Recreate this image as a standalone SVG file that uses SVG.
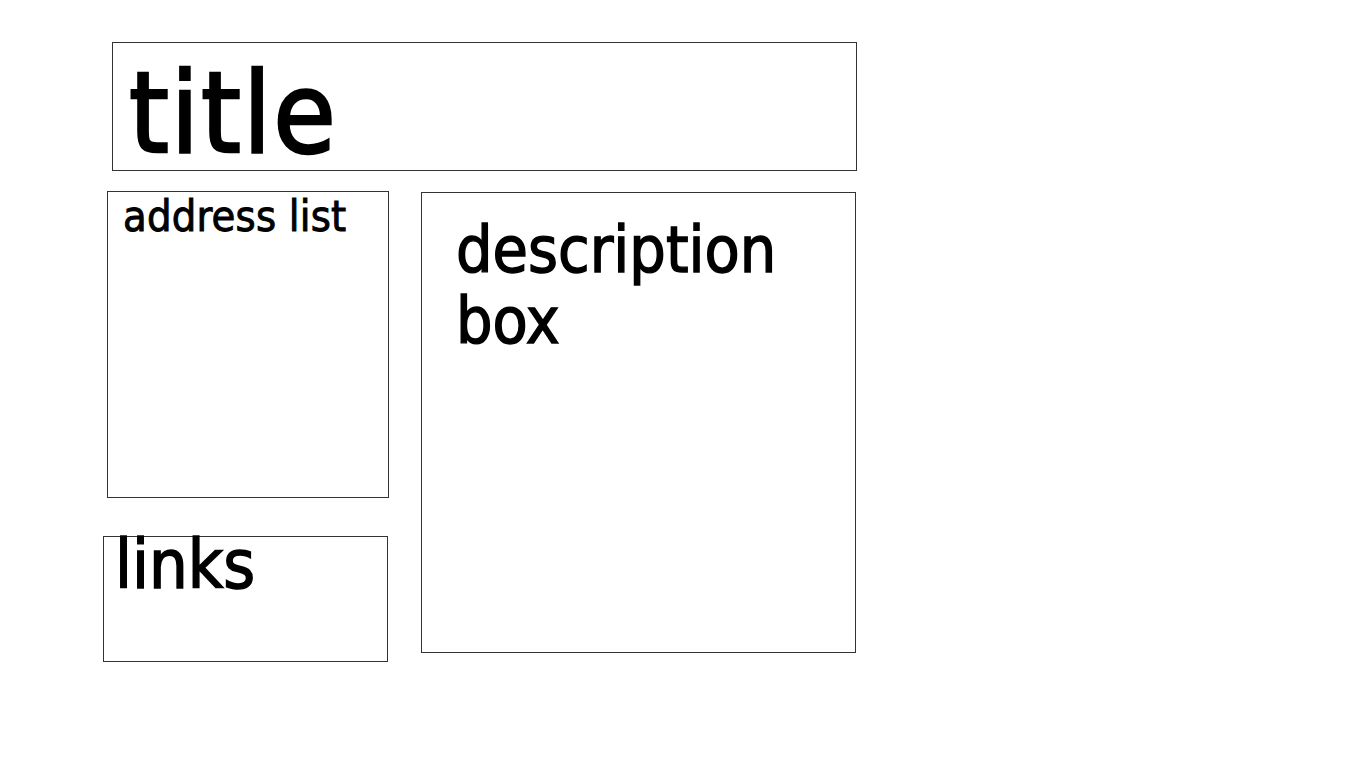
<svg xmlns="http://www.w3.org/2000/svg" width="1366" height="768" viewBox="0 0 1366 768">
<style>
.box{fill:#fff;stroke:#333;stroke-width:1}
.t{font-family:"DejaVu Sans Condensed","DejaVu Sans",sans-serif;font-stretch:condensed;fill:#000;stroke:#000}
</style>
<rect width="1366" height="768" fill="#fff"/>
<g id="title"><rect class="box" x="112.5" y="42.5" width="744" height="128"/><text class="t" x="129" y="152" font-size="113" letter-spacing="2" stroke-width="2.5">title</text></g>
<g id="address-list"><rect class="box" x="107.5" y="191.5" width="281" height="306"/><text class="t" x="123" y="231" font-size="43" letter-spacing="0.2" stroke-width="0.9">address list</text></g>
<g id="description-box"><rect class="box" x="421.5" y="192.5" width="434" height="460"/><text class="t" x="456" y="272" font-size="64" stroke-width="1.4">description</text><text class="t" x="456" y="343" font-size="64" stroke-width="1.4">box</text></g>
<g id="links"><rect class="box" x="103.5" y="536.5" width="284" height="125"/><text class="t" x="115" y="588" font-size="68" stroke-width="1.5">links</text></g>
<g id="connectors"/>
</svg>
